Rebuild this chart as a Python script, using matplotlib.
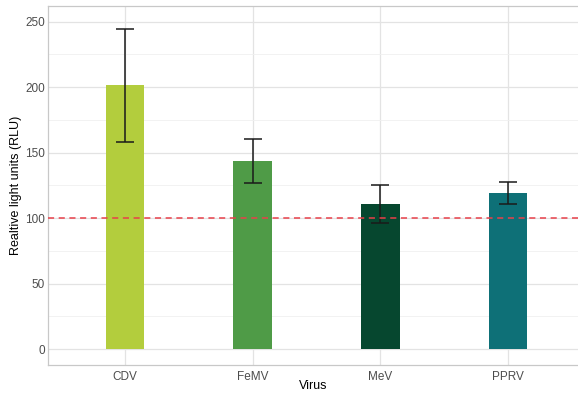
import matplotlib
matplotlib.use("Agg")
import matplotlib.pyplot as plt
import numpy as np

plt.rcParams['font.family'] = ['Liberation Sans', 'DejaVu Sans']

viruses = ['CDV', 'FeMV', 'MeV', 'PPRV']
rlu_mean = [201.5, 143.8, 110.6, 118.8]
err_low = [158.2, 127.0, 96.6, 110.6]
err_high = [244.6, 160.5, 125.0, 127.2]
bar_colors = ['#b3cd3d', '#4f9b47', '#06472f', '#0e7077']

fig = plt.figure(figsize=(5.78, 3.94), dpi=100)
ax = fig.add_axes([48 / 578, 29 / 394, 537 / 578, 359 / 394])

x = np.arange(1, len(viruses) + 1)
ax.bar(x, rlu_mean, width=0.3, color=bar_colors, zorder=3)
lo = np.array(rlu_mean) - np.array(err_low)
hi = np.array(err_high) - np.array(rlu_mean)
ax.errorbar(x, rlu_mean, yerr=[lo, hi], fmt='none', ecolor='#1a1a1a',
            elinewidth=1.1, capsize=6.5, capthick=1.1, zorder=4)
ax.axhline(100, color='#e8404a', linestyle=(0, (4, 3)), linewidth=1.1, zorder=5)

ax.set_xlim(0.4, 4.6)
ax.set_ylim(-12.2, 262)
ax.set_xticks(x)
ax.set_xticklabels(viruses)
ax.set_yticks([0, 50, 100, 150, 200, 250])
ax.set_yticks([25, 75, 125, 175, 225], minor=True)
ax.grid(True, which='major', color='#e3e3e3', linewidth=0.9, zorder=0)
ax.grid(True, which='minor', axis='y', color='#f0f0f0', linewidth=0.6, zorder=0)
ax.set_axisbelow(True)
for s in ax.spines.values():
    s.set_color('#c8c8c8')
    s.set_linewidth(0.9)
ax.tick_params(which='both', length=0, labelsize=8.5, colors='#4d4d4d', pad=2.2)
ax.tick_params(axis='x', pad=4)

ax.set_xlabel('Virus', fontsize=9, color='black', va='center')
ax.set_ylabel('Realtive light units (RLU)', fontsize=9, color='black', va='center')
ax.xaxis.set_label_coords((313 - 48) / 537, -(386 - 365) / 359)
ax.yaxis.set_label_coords((16.5 - 48) / 537, (365 - 185.5) / 359)

fig.savefig('out.png', dpi=100)
